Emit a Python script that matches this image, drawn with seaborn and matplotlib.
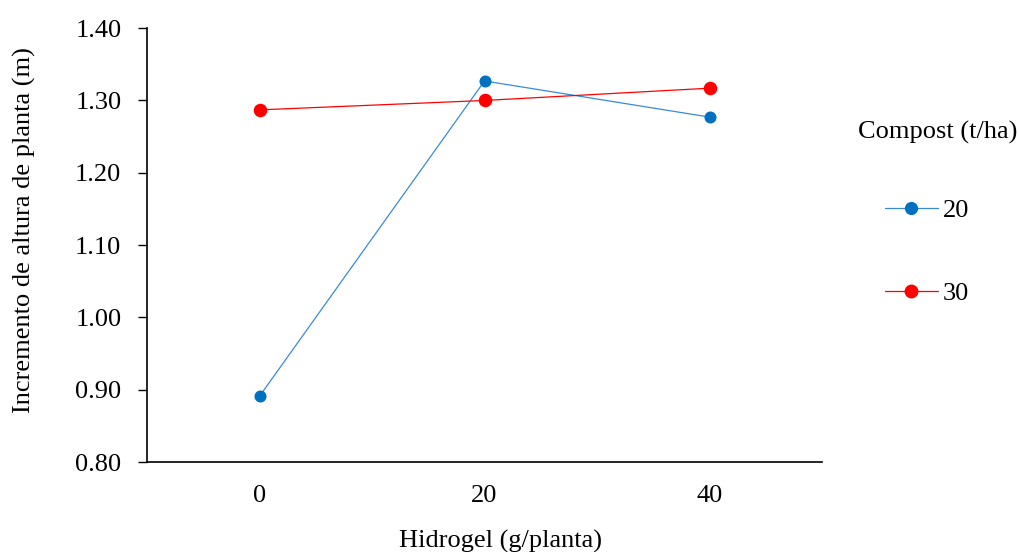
import matplotlib
matplotlib.use("Agg")
import matplotlib.pyplot as plt
from matplotlib.lines import Line2D
import pandas as pd
import seaborn as sns

# datos
hidrogel = ["0", "20", "40"]
compost_20 = [0.891, 1.327, 1.277]
compost_30 = [1.287, 1.300, 1.317]
yticks = [0.8, 0.9, 1.0, 1.1, 1.2, 1.3, 1.4]

df = pd.DataFrame({
    "Hidrogel": hidrogel * 2,
    "Incremento": compost_20 + compost_30,
    "Compost": ["20"] * 3 + ["30"] * 3,
})

line_cols = {"20": "#3a8ad8", "30": "#ff0000"}
mark_cols = {"20": "#0070c0", "30": "#ff0000"}

sns.set_style("white")
plt.rcParams["font.family"] = ["Liberation Serif", "DejaVu Serif"]
plt.rcParams["text.color"] = "black"
plt.rcParams["axes.labelcolor"] = "black"
plt.rcParams["xtick.color"] = "black"
plt.rcParams["ytick.color"] = "black"

fs = 19

fig = plt.figure(figsize=(10.19, 5.52), dpi=100)
ax = fig.add_axes([0.1443, 0.163, 0.6624, 0.786])

sns.lineplot(data=df, x="Hidrogel", y="Incremento", hue="Compost",
             palette=line_cols, linewidth=0.9, legend=False, ax=ax, sort=False)
sns.scatterplot(data=df[df.Compost == "20"], x="Hidrogel", y="Incremento",
                color=mark_cols["20"], s=75, linewidth=0, zorder=3, ax=ax, legend=False)
sns.scatterplot(data=df[df.Compost == "30"], x="Hidrogel", y="Incremento",
                color=mark_cols["30"], s=95, linewidth=0, zorder=3, ax=ax, legend=False)

ax.set_xlim(-0.5, 2.5)
ax.set_ylim(0.80, 1.40)
ax.set_yticks(yticks)
ax.set_yticklabels([f"{v:.2f}" for v in yticks])
ax.tick_params(axis="y", left=True, length=6.5, width=1, labelsize=fs, pad=12)
ax.tick_params(axis="x", bottom=False, labelsize=fs, pad=13)
for s in ["top", "right"]:
    ax.spines[s].set_visible(False)
for s in ["left", "bottom"]:
    ax.spines[s].set_color("black")
    ax.spines[s].set_linewidth(1.2)

ax.set_xlabel("Hidrogel (g/planta)", fontsize=fs, labelpad=16.5)
ax.xaxis.label.set_x(0.524)
ax.set_ylabel("Incremento de altura de planta (m)", fontsize=fs)
ax.yaxis.set_label_coords(-0.165, 0.535)

# leyenda: título aparte para alinearlo como en el original
fig.text(858 / 1019, 1 - 132 / 552, "Compost (t/ha)", fontsize=fs,
         ha="left", va="center")
handles = [
    Line2D([], [], color=line_cols[k], linewidth=0.9, marker="o",
           markerfacecolor=mark_cols[k], markeredgewidth=0,
           markersize=9.5 if k == "20" else 10)
    for k in ["20", "30"]
]
fig.legend(handles, ["20", "30"], loc="center left",
           bbox_to_anchor=(0.858, 0.544), frameon=False, fontsize=fs,
           labelspacing=2.25, handlelength=2.0,
           handletextpad=0.2, borderaxespad=0)

fig.savefig("out.png", dpi=100)
